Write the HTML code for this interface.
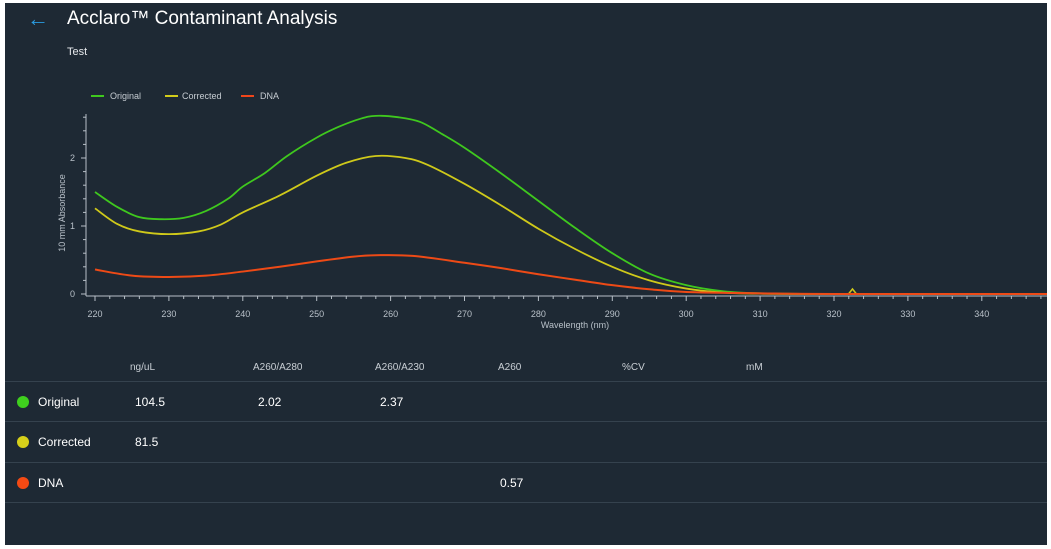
<!DOCTYPE html>
<html><head><meta charset="utf-8">
<style>
html,body{margin:0;padding:0;background:#fff;}
#wrap{position:absolute;left:5px;top:3px;width:1042px;height:542px;background:#1e2934;overflow:hidden;font-family:"Liberation Sans",sans-serif;color:#fff;}
.t{position:absolute;white-space:nowrap;}
.hdr{font-size:10px;color:#c9cfd5;top:359px;}
.row{position:absolute;left:0;width:1042px;height:1px;background:#35424e;}
.lbl{font-size:12px;color:#fff;}
.dot{position:absolute;width:12px;height:12px;border-radius:50%;left:12px;}
</style></head><body>
<div id="wrap">
<div class="t" style="left:22px;top:3px;font-size:22px;color:#2a9be0;">←</div>
<div class="t" style="left:62px;top:5px;font-size:19px;font-weight:500;">Acclaro™ Contaminant Analysis</div>
<div class="t" style="left:62px;top:43px;font-size:11px;color:#e5e8eb;">Test</div>
<svg style="position:absolute;left:0;top:0" width="1042" height="340" id="sv">
<g font-family="Liberation Sans, sans-serif" font-size="9" fill="#c6ccd2">
<line x1="86" y1="93" x2="99" y2="93" stroke="#3fc81e" stroke-width="2"/><text x="105" y="96">Original</text>
<line x1="160" y1="93" x2="173" y2="93" stroke="#d2cc1a" stroke-width="2"/><text x="177" y="96">Corrected</text>
<line x1="236" y1="93" x2="249" y2="93" stroke="#f0451a" stroke-width="2"/><text x="255" y="96">DNA</text>
</g>
<g id="ax" stroke="#b8c0c8" stroke-width="1" fill="none"></g>
<g id="lab" font-family="Liberation Sans, sans-serif" font-size="9" fill="#b8c0c8"></g>
<text x="0" y="0" transform="translate(60,210) rotate(-90)" text-anchor="middle" font-family="Liberation Sans, sans-serif" font-size="9" fill="#b8c0c8">10 mm Absorbance</text>
<text x="570" y="325" text-anchor="middle" font-family="Liberation Sans, sans-serif" font-size="9" fill="#b8c0c8">Wavelength (nm)</text>
<text x="549" y="342" text-anchor="middle" font-family="Liberation Sans, sans-serif" font-size="8" fill="#6c7884">.....</text>
<g id="cv" fill="none" stroke-width="1.8"></g>
</svg>
<div class="t hdr" style="left:125px;">ng/uL</div>
<div class="t hdr" style="left:248px;">A260/A280</div>
<div class="t hdr" style="left:370px;">A260/A230</div>
<div class="t hdr" style="left:493px;">A260</div>
<div class="t hdr" style="left:617px;">%CV</div>
<div class="t hdr" style="left:741px;">mM</div>
<div class="row" style="top:378px"></div>
<div class="row" style="top:418px"></div>
<div class="row" style="top:459px"></div>
<div class="row" style="top:499px"></div>
<div class="dot" style="top:393px;background:#3fd01e"></div>
<div class="dot" style="top:433px;background:#d6d01a"></div>
<div class="dot" style="top:474px;background:#f44a14"></div>
<div class="t lbl" style="left:33px;top:392px;">Original</div>
<div class="t lbl" style="left:33px;top:432px;">Corrected</div>
<div class="t lbl" style="left:33px;top:473px;">DNA</div>
<div class="t lbl" style="left:130px;top:392px;">104.5</div>
<div class="t lbl" style="left:253px;top:392px;">2.02</div>
<div class="t lbl" style="left:375px;top:392px;">2.37</div>
<div class="t lbl" style="left:130px;top:432px;">81.5</div>
<div class="t lbl" style="left:495px;top:473px;">0.57</div>
</div>
<script>
var X=function(w){return 90+(w-220)*7.39;}, Y=function(v){return 291-v*68;};
var ax=document.getElementById('ax'),lab=document.getElementById('lab'),h='',l='';
h+='<line x1="81" y1="111" x2="81" y2="293"/><line x1="81" y1="293" x2="1042" y2="293"/>';
for(var w=220;w<=350;w+=2){var x=X(w),big=w%10==0;h+='<line x1="'+x+'" y1="293" x2="'+x+'" y2="'+(293+(big?5:3))+'"/>';if(big&&w<=340)l+='<text x="'+x+'" y="314" text-anchor="middle">'+w+'</text>';}
for(var v=0;v<=2.6;v+=0.2){var y=Y(v),big=Math.abs(v-Math.round(v))<0.01;h+='<line x1="'+(big?76:78)+'" y1="'+y+'" x2="81" y2="'+y+'"/>';if(big)l+='<text x="70" y="'+(y+3)+'" text-anchor="end">'+Math.round(v)+'</text>';}
ax.innerHTML=h;lab.innerHTML=l;
function path(p){var s='M'+X(p[0][0])+','+Y(p[0][1]);for(var i=0;i<p.length-1;i++){var a=p[Math.max(i-1,0)],b=p[i],c=p[i+1],d=p[Math.min(i+2,p.length-1)];var x1=X(b[0])+(X(c[0])-X(a[0]))/6,y1=Y(b[1])+(Y(c[1])-Y(a[1]))/6,x2=X(c[0])-(X(d[0])-X(b[0]))/6,y2=Y(c[1])-(Y(d[1])-Y(b[1]))/6;s+='C'+x1+','+y1+' '+x2+','+y2+' '+X(c[0])+','+Y(c[1]);}return s;}
var O=[[220,1.5],[223,1.28],[226,1.13],[229,1.1],[232,1.12],[235,1.22],[238,1.4],[240,1.58],[243,1.78],[246,2.03],[250,2.3],[253,2.46],[256,2.58],[258,2.62],[261,2.6],[264,2.53],[267,2.35],[270,2.15],[275,1.77],[280,1.37],[285,0.97],[290,0.6],[295,0.3],[300,0.13],[305,0.04],[310,0.01],[320,0],[350,0]];
var C=[[220,1.26],[223,1.03],[226,0.92],[230,0.88],[234,0.92],[237,1.02],[240,1.2],[245,1.45],[250,1.74],[254,1.93],[258,2.03],[262,2.0],[265,1.9],[270,1.62],[275,1.3],[280,0.96],[285,0.66],[290,0.4],[295,0.2],[300,0.08],[305,0.02],[310,0.005],[320,0],[350,0]];
var D=[[220,0.36],[225,0.27],[230,0.25],[235,0.27],[240,0.33],[245,0.4],[250,0.48],[255,0.55],[258,0.57],[263,0.56],[270,0.46],[275,0.38],[280,0.29],[285,0.21],[290,0.13],[295,0.07],[300,0.03],[310,0.01],[320,0],[350,0]];
var sx=X(322.5),b=Y(0);
document.getElementById('cv').innerHTML='<path d="'+path(O)+'" stroke="#3fc81e"/><path d="'+path(C)+'" stroke="#cfc91a"/><path d="M'+(sx-4)+','+b+' L'+sx+','+(b-5)+' L'+(sx+4)+','+b+'" stroke="#cfc91a" stroke-width="1.5"/><path d="'+path(D)+'" stroke="#ee4a16" stroke-width="2"/>';
</script>
</body></html>
